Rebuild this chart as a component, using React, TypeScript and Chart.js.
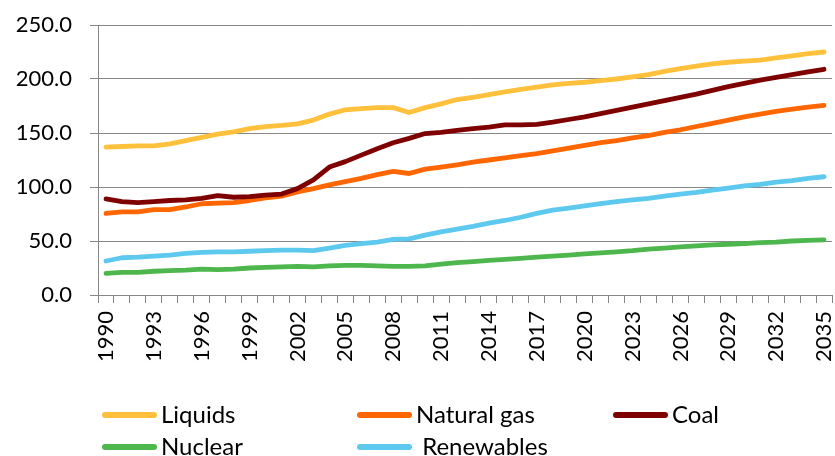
import React, { useEffect, useRef } from "react";
import { Chart, registerables } from "chart.js";

Chart.register(...registerables);

const years: string[] = [];
for (let y = 1990; y <= 2035; y++) years.push(String(y));

const seriesNames = ["Liquids", "Natural gas", "Coal", "Nuclear", " Renewables"];
const seriesColors = ["#FFC03C", "#FF6600", "#7F0000", "#4DB74D", "#5DC9EE"];

const liquids = [137, 137.5, 138, 138, 140, 143, 146, 149, 151, 154, 156, 157, 158.5, 162, 167.5, 171.5, 172.5, 173.5, 173.5, 169, 173.5, 177, 181, 183, 185.5, 188, 190.5, 192.5, 194.5, 196, 197, 198.5, 200, 202, 204, 207, 209.5, 212, 214, 215.5, 216.5, 217.5, 219.5, 221.5, 223.5, 225];
const naturalGas = [75.5, 77, 77, 79, 79, 81.5, 84.5, 85, 85.5, 87.5, 90, 91.5, 95.5, 98.5, 102, 105, 108, 111.5, 114.5, 112.5, 116.5, 118.5, 120.5, 123, 125, 127, 129, 131, 133.5, 136, 138.5, 141, 143, 145.5, 147.5, 150.5, 153, 156, 159, 162, 165, 167.5, 170, 172, 174, 175.5];
const coal = [89, 86.5, 85.5, 86.5, 87.5, 88, 89.5, 92, 90.5, 91, 92.5, 93.5, 98.5, 106.5, 118.5, 123.5, 129.5, 135.5, 141, 145, 149.5, 150.5, 152.5, 154, 155.5, 157.5, 157.5, 158, 160, 162.5, 165, 168, 171, 174, 177, 180, 183, 186, 189.5, 193, 196, 199, 201.5, 204, 206.5, 209];
const nuclear = [20, 21, 21, 22, 22.5, 23, 24, 23.5, 24, 25, 25.5, 26, 26.5, 26, 27, 27.5, 27.5, 27, 26.5, 26.5, 27, 28.5, 30, 31, 32, 33, 34, 35, 36, 37, 38, 39, 40, 41, 42.5, 43.5, 44.5, 45.5, 46.5, 47, 47.5, 48.5, 49, 50, 50.5, 51];
const renewables = [31.5, 34.5, 35, 36, 37, 38.5, 39.5, 40, 40, 40.5, 41, 41.5, 41.5, 41, 43.5, 46, 47.5, 49, 51.5, 52, 55.5, 58.5, 61, 63.5, 66.5, 69, 72, 75.5, 78.5, 80.5, 82.5, 84.5, 86.5, 88, 89.5, 91.5, 93.5, 95, 97, 99, 101, 102.5, 104.5, 106, 108, 109.5];

const seriesValues = [liquids, naturalGas, coal, nuclear, renewables];

const yMin = 0;
const yMax = 250;
const yStep = 50;

const FONT = "Lato, 'Open Sans', sans-serif";
const GRID = "#878787";

const LEGEND_COL_X = [102, 357, 613];
const LEGEND_ROW_Y = [415, 447];

const gridLegend = {
  id: "gridLegend",
  afterDraw(chart: any) {
    const ctx = chart.ctx as CanvasRenderingContext2D;
    ctx.save();
    chart.data.datasets.forEach((ds: any, i: number) => {
      const col = i % 3;
      const row = Math.floor(i / 3);
      const x = LEGEND_COL_X[col];
      const y = LEGEND_ROW_Y[row];
      ctx.strokeStyle = ds.borderColor;
      ctx.lineWidth = 6;
      ctx.lineCap = "round";
      ctx.beginPath();
      ctx.moveTo(x + 3, y);
      ctx.lineTo(x + 52, y);
      ctx.stroke();
      ctx.fillStyle = "#000";
      ctx.font = `24px ${FONT}`;
      ctx.textBaseline = "alphabetic";
      ctx.textAlign = "left";
      ctx.fillText(ds.label, x + 59, y + 8);
    });
    ctx.restore();
  },
};

export default function App() {
  const ref = useRef<HTMLCanvasElement>(null);
  useEffect(() => {
    document.body.style.margin = "0";
    const canvas = ref.current!;
    const chart = new Chart(canvas, {
      type: "line",
      data: {
        labels: years,
        datasets: seriesNames.map((name, i) => ({
          label: name,
          data: seriesValues[i],
          borderColor: seriesColors[i],
          backgroundColor: seriesColors[i],
          borderWidth: 4.8,
          pointRadius: 0,
          tension: 0,
          borderCapStyle: "round" as const,
          borderJoinStyle: "round" as const,
          fill: false,
          order: seriesNames.length - i,
        })),
      },
      options: {
        responsive: false,
        animation: false,
        layout: { padding: { top: 25, right: 3, bottom: 90, left: 0 } },
        plugins: { legend: { display: false }, tooltip: { enabled: false } },
        scales: {
          x: {
            type: "category",
            offset: true,
            grid: {
              display: true,
              drawOnChartArea: false,
              drawTicks: true,
              tickLength: 8,
              color: GRID,
              lineWidth: 1,
              offset: true,
            },
            border: { display: true, color: GRID, width: 1 },
            ticks: {
              autoSkip: false,
              minRotation: 90,
              maxRotation: 90,
              padding: 8,
              color: "#000",
              font: { family: FONT, size: 22 },
              callback: function (this: any, _v: any, index: number) {
                return (Number(years[index]) - 1990) % 3 === 0 ? years[index] : "";
              },
            },
            afterFit(scale: any) {
              scale.height = 71;
              scale.paddingLeft = 0;
              scale.paddingRight = 0;
              scale.paddingTop = 0;
              scale.paddingBottom = 0;
            },
          },
          y: {
            min: yMin,
            max: yMax,
            grid: {
              color: GRID,
              lineWidth: 1,
              drawTicks: true,
              tickLength: 8,
            },
            border: { display: true, color: GRID, width: 1 },
            ticks: {
              stepSize: yStep,
              padding: 18,
              color: "#000",
              font: { family: FONT, size: 22 },
              callback: (v: any) => Number(v).toFixed(1),
            },
            afterFit(scale: any) {
              scale.width = 98;
              scale.paddingTop = 0;
              scale.paddingBottom = 0;
              scale.paddingLeft = 0;
              scale.paddingRight = 0;
            },
          },
        },
      },
      plugins: [gridLegend],
    });
    return () => chart.destroy();
  }, []);
  return (
    <div style={{ position: "absolute", left: 0, top: 0, width: 835, height: 456, background: "#fff" }}>
      <canvas ref={ref} width={835} height={456} />
    </div>
  );
}
